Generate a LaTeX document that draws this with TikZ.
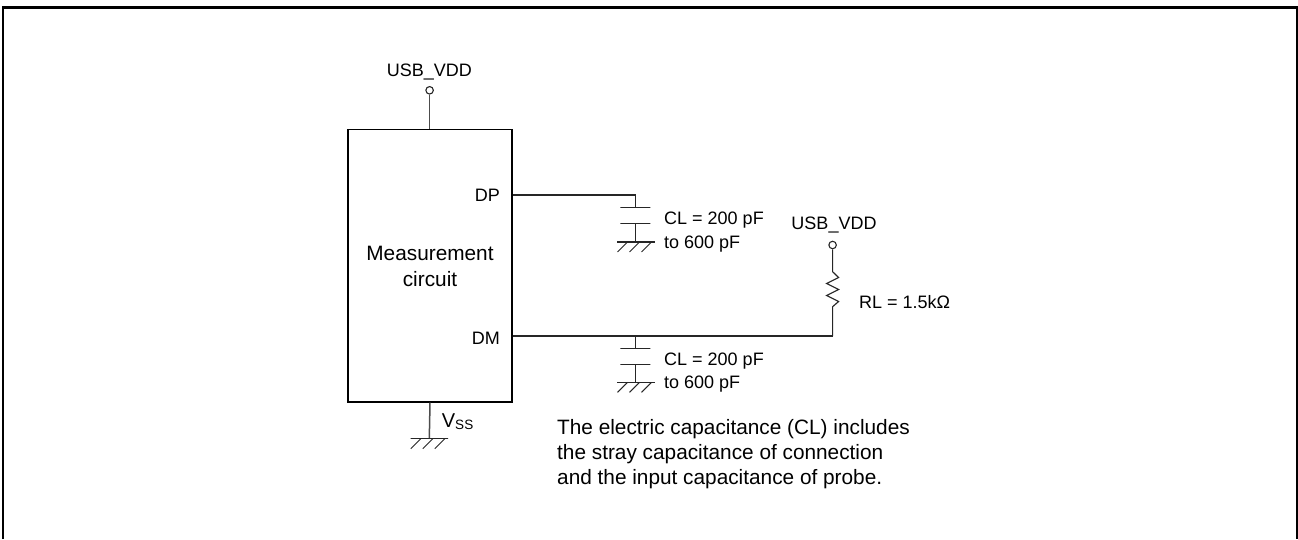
\documentclass[tikz,border=0pt]{standalone}
\usepackage{fontspec}
\setmainfont{Liberation Sans}
\usetikzlibrary{calc, positioning}

\begin{document}
\begin{tikzpicture}[
                x=1pt, y=-1pt,
                every node/.style={font=\fontsize{18}{24}\selectfont},
                wire/.style={draw=black!85, line width=1.15pt},
                feed/.style={draw=black!70, line width=1.5pt},
                chip/.style={rectangle, draw, line width=1.8pt, minimum width=164.6pt, minimum height=272.2pt, inner sep=0pt},
                pin/.style={circle, draw=black!85, line width=1.1pt, minimum size=7.5pt, inner sep=0pt},
                plate/.style={rectangle, draw=black!85, line width=1.1pt, minimum width=30pt, minimum height=0pt, inner sep=0pt},
                gnd/.style={rectangle, draw=black!85, line width=1.1pt, minimum width=37.6pt, minimum height=0pt, inner sep=0pt},
                lbl/.style={inner sep=0pt, anchor=base west},
                big/.style={font=\fontsize{20.8}{25}\selectfont}
            ]
                \useasboundingbox (0,0) rectangle (1298,539);
                % Frame
                \draw[line width=2.5pt] (3,539) -- (3,7.6) -- (1297.6,7.6) -- (1297.6,539);

                % Measurement block
                \node[chip] (M) at (430,265.6) {};
                \node[lbl, big, anchor=base] (Mtxt1) at (430,260.7) {Measurement};
                \node[lbl, big, anchor=base] (Mtxt2) at (430,286.7) {circuit};
                \node[lbl, anchor=base east] (DP) at (500,201.7) {DP};
                \node[lbl, anchor=base east] (DM) at (500,344) {DM};

                % Top supply
                \node[pin] (P1) at (429.6,90.3) {};
                \node[lbl, anchor=base] (U1) at (429.3,76.7) {USB\_VDD};
                \draw[feed] (P1) -- (P1 |- M.north);

                % DP branch
                \coordinate (dpEnd) at (635.3,195);
                \node[plate] (C1a) at (635.3,207.3) {};
                \node[plate] (C1b) at (635.3,223.7) {};
                \node[gnd] (G1) at (636,242) {};
                \draw[wire] (M.east |- dpEnd) -- (dpEnd) -- (C1a);
                \draw[wire] (C1b) -- (C1b |- G1);
                \node[lbl] (CL1) at (664,224) {CL = 200 pF};
                \node[lbl] (CT1) at (664,248.3) {to 600 pF};

                % DM branch
                \coordinate (dmEnd) at (832.6,336);
                \node[plate] (C2a) at (635.3,348.3) {};
                \node[plate] (C2b) at (635.3,364.7) {};
                \node[gnd] (G2) at (636,382.3) {};
                \draw[wire] (M.east |- dmEnd) -- (dmEnd);
                \draw[wire] (C2a |- dmEnd) -- (C2a);
                \draw[wire] (C2b) -- (C2b |- G2);
                \node[lbl] (CL2) at (664,365) {CL = 200 pF};
                \node[lbl] (CT2) at (664,388.3) {to 600 pF};

                % Pull-up
                \node[pin] (P2) at (832.6,245) {};
                \node[lbl, anchor=base] (U2) at (834,229.3) {USB\_VDD};
                \coordinate (Ra) at (832.6,271.7);
                \coordinate (Rb) at (832.6,306.7);
                \draw[wire] (P2) -- (Ra) -- ++(6,5.8) -- ++(-12,6) -- ++(12,6) -- ++(-12,6) -- ++(12,6) -- (Rb) -- (dmEnd);
                \node[lbl] (RL) at (859,308.3) {RL = 1.5kΩ};

                % Ground of the block
                \node[gnd] (G3) at (429.3,438.7) {};
                \draw[feed] (M.south) -- (G3);
                \node[lbl, font=\fontsize{20}{24}\selectfont] (VSS) at (441.7,427) {V{\fontsize{13.5}{14}\selectfont\raisebox{-2pt}{SS}}};

                % Hatching
                \foreach \g in {G1,G2,G3}
                    \foreach \dx in {-8.5,3.5,15.5}
                        \draw[wire, line width=1pt] ($(\g)+(\dx,0)$) -- ++(-10,10);

                % Note
                \node[lbl, big] (N1) at (557,434) {The electric capacitance (CL) includes};
                \node[lbl, big] (N2) at (557,459) {the stray capacitance of connection};
                \node[lbl, big] (N3) at (557,484) {and the input capacitance of probe.};
            \end{tikzpicture}
\end{document}
